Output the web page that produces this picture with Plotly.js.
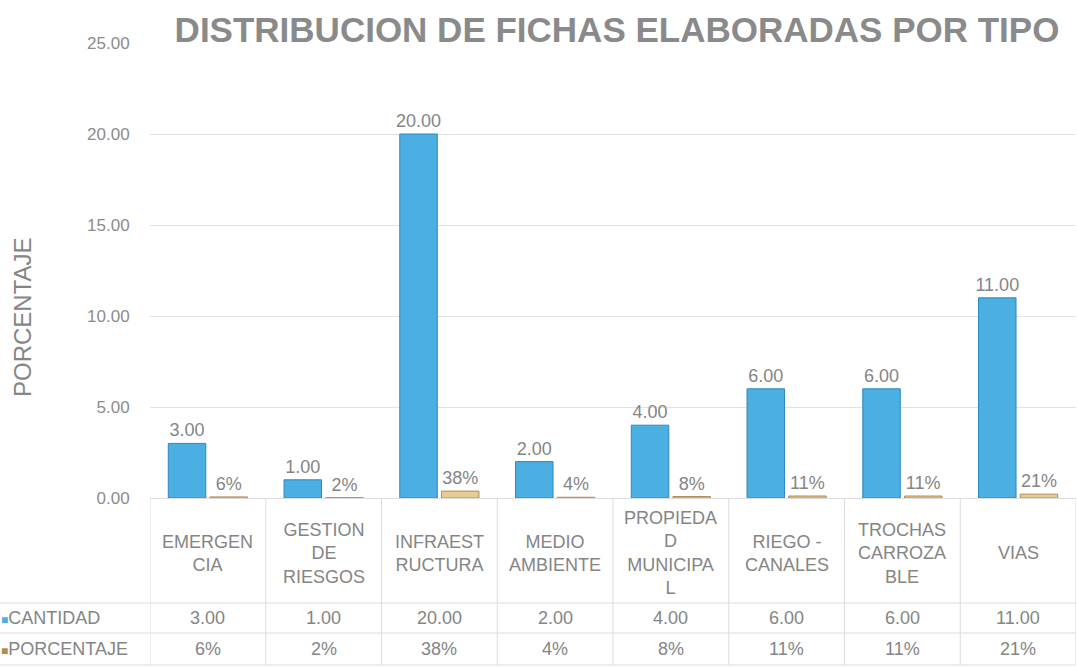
<!DOCTYPE html>
<html>
<head>
<meta charset="utf-8">
<script src="https://cdn.plot.ly/plotly-3.0.1.min.js"></script>
<style>html,body{margin:0;padding:0;background:#fff;}#chart{width:1077px;height:667px;}</style>
</head>
<body>
<div id="chart"></div>
<script>
const categories = ['EMERGENCIA','GESTION DE RIESGOS','INFRAESTRUCTURA','MEDIO AMBIENTE','PROPIEDAD MUNICIPAL','RIEGO - CANALES','TROCHAS CARROZABLE','VIAS'];
const categoryLabels = ['EMERGEN<br>CIA','GESTION<br>DE<br>RIESGOS','INFRAEST<br>RUCTURA','MEDIO<br>AMBIENTE','PROPIEDA<br>D<br>MUNICIPA<br>L','RIEGO -<br>CANALES','TROCHAS<br>CARROZA<br>BLE','VIAS'];
const cantidad = [3, 1, 20, 2, 4, 6, 6, 11];
const porcentaje = [0.06, 0.02, 0.38, 0.04, 0.08, 0.11, 0.11, 0.21];
const seriesNames = ['CANTIDAD', 'PORCENTAJE'];
const yTicks = [0, 5, 10, 15, 20, 25];

const FONT = 'Liberation Sans, Arial, sans-serif';
const GRAY = '#858585';
const BLUE = '#4cafe2', BLUE_LINE = '#2e88bd';
const TAN = '#e4cd96', TAN_LINE = '#b48c52';

// pixel helpers (plot area: top 43, bottom 498 => 455px tall)
const PH = 455;
const py = px => (498 - px) / PH;
const PW = 1077 - 150 - 1;
const pxX = px => (px - 150) / PW;

const traces = [
  {
    type: 'bar', name: seriesNames[0], x: categories, y: cantidad,
    marker: {color: BLUE, line: {color: BLUE_LINE, width: 1}},
    text: cantidad.map(v => v.toFixed(2)), textposition: 'outside', constraintext: 'none',
    textfont: {family: FONT, size: 18, color: GRAY}, cliponaxis: false,
    hoverinfo: 'x+y'
  },
  {
    type: 'bar', name: seriesNames[1], x: categories, y: porcentaje,
    marker: {color: TAN, line: {color: TAN_LINE, width: 1}},
    text: porcentaje.map(v => Math.round(v * 100) + '%'), textposition: 'outside', constraintext: 'none',
    textfont: {family: FONT, size: 18, color: GRAY}, cliponaxis: false,
    hoverinfo: 'x+y'
  }
];

const shapes = [];
const LINE = {color: '#dcdcdc', width: 1};
// vertical column borders
for (let i = 0; i <= categories.length; i++) {
  shapes.push({type: 'line', xref: 'x', yref: 'paper', x0: i - 0.5, x1: i - 0.5, y0: 0, y1: py(665), line: LINE, layer: 'below'});
}
// horizontal borders
shapes.push({type: 'line', xref: 'paper', yref: 'paper', x0: pxX(0), x1: 1, y0: py(603), y1: py(603), line: LINE});
shapes.push({type: 'line', xref: 'paper', yref: 'paper', x0: pxX(0), x1: 1, y0: py(633), y1: py(633), line: LINE});
shapes.push({type: 'line', xref: 'paper', yref: 'paper', x0: pxX(0), x1: 1, y0: py(665), y1: py(665), line: LINE});

const TF = {family: FONT, size: 18, color: GRAY};
const annotations = [];
categories.forEach((c, i) => {
  annotations.push({xref: 'x', yref: 'paper', x: i, y: py(553), text: categoryLabels[i], showarrow: false,
    xanchor: 'center', yanchor: 'middle', align: 'center', font: TF});
  annotations.push({xref: 'x', yref: 'paper', x: i, y: py(618), text: cantidad[i].toFixed(2), showarrow: false,
    xanchor: 'center', yanchor: 'middle', font: TF});
  annotations.push({xref: 'x', yref: 'paper', x: i, y: py(649), text: Math.round(porcentaje[i] * 100) + '%', showarrow: false,
    xanchor: 'center', yanchor: 'middle', font: TF});
});
annotations.push({xref: 'paper', yref: 'paper', x: pxX(-1), y: py(618), xanchor: 'left', yanchor: 'middle', showarrow: false,
  text: '<span style="color:' + BLUE + ';font-size:12px">■</span>' + seriesNames[0], font: TF});
annotations.push({xref: 'paper', yref: 'paper', x: pxX(-1), y: py(649), xanchor: 'left', yanchor: 'middle', showarrow: false,
  text: '<span style="color:' + TAN_LINE + ';font-size:12px">■</span>' + seriesNames[1], font: TF});
// y axis title
annotations.push({xref: 'paper', yref: 'paper', x: pxX(22), y: py(317), xanchor: 'center', yanchor: 'middle', showarrow: false,
  textangle: -90, text: 'PORCENTAJE', font: {family: FONT, size: 24, color: GRAY}});

const layout = {
  width: 1077, height: 667,
  margin: {l: 150, r: 1, t: 43, b: 169},
  paper_bgcolor: '#ffffff', plot_bgcolor: '#ffffff',
  showlegend: false,
  barmode: 'group', bargap: 0.28, bargroupgap: 0.1,
  title: {text: 'DISTRIBUCION DE FICHAS ELABORADAS POR TIPO', xref: 'container', yref: 'container',
    x: 617 / 1077, y: 1 - 30 / 667, xanchor: 'center', yanchor: 'middle',
    font: {family: FONT, size: 35, color: '#8a8a8a', weight: 'bold'}},
  xaxis: {type: 'category', showticklabels: false, ticks: '', showgrid: false, zeroline: false,
    showline: false, range: [-0.5, categories.length - 0.5], fixedrange: true},
  yaxis: {range: [0, 25], tickvals: yTicks, ticktext: yTicks.map(v => v.toFixed(2)),
    showgrid: true, gridcolor: '#e2e2e2', gridwidth: 1, zeroline: true, zerolinecolor: '#dcdcdc',
    ticks: 'outside', ticklen: 16, tickcolor: 'rgba(0,0,0,0)', showline: false,
    tickfont: {family: FONT, size: 17, color: '#8c8c8c'}},
  shapes: shapes,
  annotations: annotations
};

Plotly.newPlot('chart', traces, layout, {displayModeBar: false, staticPlot: true});
</script>
</body>
</html>
